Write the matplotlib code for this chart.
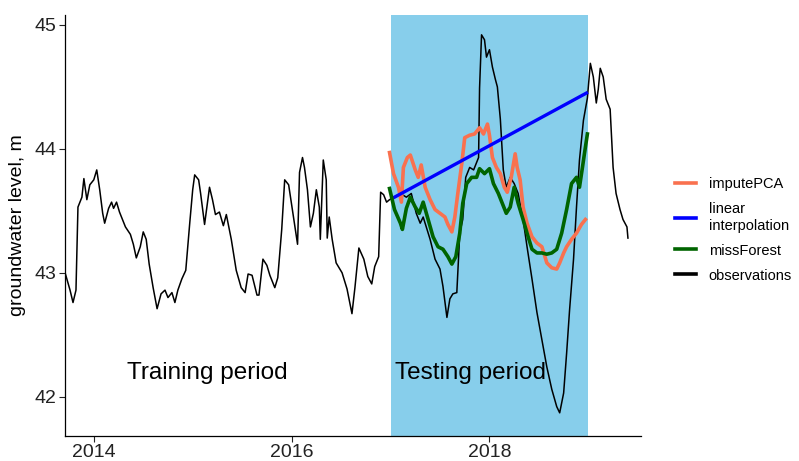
import numpy as np
import matplotlib
matplotlib.use('Agg')
import matplotlib.pyplot as plt

plt.rcParams['font.family'] = ['Liberation Sans', 'DejaVu Sans']

# observed groundwater level (decimal year, m)
obs_t = [2013.705, 2013.71, 2013.76, 2013.79, 2013.82, 2013.84, 2013.88, 2013.90, 2013.93, 2013.96,
         2014.00, 2014.03, 2014.06, 2014.09, 2014.11, 2014.15, 2014.18, 2014.20, 2014.23, 2014.26,
         2014.32, 2014.37, 2014.40, 2014.43, 2014.47, 2014.50, 2014.53, 2014.56, 2014.60, 2014.64,
         2014.68, 2014.72, 2014.75, 2014.79, 2014.82, 2014.85, 2014.89, 2014.93, 2014.97, 2015.00,
         2015.02, 2015.06, 2015.08, 2015.12, 2015.17, 2015.20, 2015.23, 2015.27, 2015.31, 2015.34,
         2015.39, 2015.44, 2015.49, 2015.53, 2015.56, 2015.60, 2015.65, 2015.67, 2015.71, 2015.75,
         2015.78, 2015.83, 2015.86, 2015.90, 2015.93, 2015.97, 2016.00, 2016.02, 2016.06, 2016.08,
         2016.11, 2016.13, 2016.16, 2016.19, 2016.22, 2016.25, 2016.28, 2016.29, 2016.32, 2016.35,
         2016.36, 2016.38, 2016.41, 2016.45, 2016.51, 2016.56, 2016.61, 2016.64, 2016.68, 2016.73,
         2016.77, 2016.81, 2016.84, 2016.88, 2016.90, 2016.93, 2016.96, 2016.99, 2017.04, 2017.10,
         2017.16, 2017.21, 2017.26, 2017.30, 2017.33, 2017.40, 2017.45, 2017.50, 2017.53, 2017.57,
         2017.60, 2017.63, 2017.67, 2017.70, 2017.73, 2017.76, 2017.80, 2017.84, 2017.89, 2017.90,
         2017.92, 2017.95, 2017.97, 2018.00, 2018.03, 2018.06, 2018.08, 2018.11, 2018.14, 2018.17,
         2018.21, 2018.25, 2018.29, 2018.34, 2018.38, 2018.43, 2018.48, 2018.53, 2018.58, 2018.63,
         2018.68, 2018.71, 2018.75, 2018.78, 2018.81, 2018.85, 2018.88, 2018.91, 2018.95, 2018.99,
         2019.02, 2019.05, 2019.08, 2019.10, 2019.12, 2019.15, 2019.18, 2019.22, 2019.25, 2019.28,
         2019.32, 2019.35, 2019.39, 2019.40]
obs_v = [43.00, 43.00, 42.86, 42.76, 42.86, 43.53, 43.61, 43.76, 43.59, 43.71,
         43.75, 43.83, 43.67, 43.48, 43.40, 43.52, 43.57, 43.52, 43.57, 43.49,
         43.37, 43.31, 43.23, 43.12, 43.21, 43.33, 43.27, 43.07, 42.88, 42.71,
         42.83, 42.86, 42.80, 42.84, 42.76, 42.86, 42.95, 43.02, 43.40, 43.67,
         43.79, 43.75, 43.64, 43.39, 43.69, 43.59, 43.47, 43.49, 43.38, 43.47,
         43.27, 43.02, 42.88, 42.84, 42.99, 42.98, 42.82, 42.82, 43.11, 43.06,
         42.98, 42.88, 42.96, 43.35, 43.75, 43.71, 43.55, 43.44, 43.23, 43.81,
         43.93, 43.85, 43.67, 43.37, 43.48, 43.67, 43.53, 43.27, 43.91, 43.75,
         43.28, 43.45, 43.27, 43.08, 43.00, 42.87, 42.67, 42.88, 43.20, 43.11,
         42.97, 42.91, 43.05, 43.13, 43.65, 43.63, 43.57, 43.59, 43.61, 43.64,
         43.61, 43.64, 43.48, 43.40, 43.45, 43.27, 43.11, 43.03, 42.89, 42.64,
         42.79, 42.83, 42.84, 43.32, 43.43, 43.77, 43.85, 43.83, 43.93, 44.49,
         44.92, 44.88, 44.74, 44.80, 44.66, 44.56, 44.50, 44.24, 43.83, 43.69,
         43.77, 43.72, 43.64, 43.43, 43.21, 42.95, 42.68, 42.46, 42.24, 42.06,
         41.92, 41.87, 42.03, 42.35, 42.70, 43.11, 43.53, 43.91, 44.23, 44.41,
         44.69, 44.58, 44.37, 44.48, 44.65, 44.58, 44.40, 44.32, 43.85, 43.64,
         43.51, 43.43, 43.37, 43.28]

# imputePCA
pca_t = [2016.99, 2017.03, 2017.08, 2017.11, 2017.13, 2017.17, 2017.20, 2017.25, 2017.28, 2017.31,
         2017.35, 2017.40, 2017.45, 2017.50, 2017.55, 2017.58, 2017.62, 2017.65, 2017.68, 2017.72,
         2017.75, 2017.80, 2017.85, 2017.90, 2017.94, 2017.98, 2018.00, 2018.03, 2018.07, 2018.11,
         2018.15, 2018.18, 2018.22, 2018.26, 2018.28, 2018.31, 2018.34, 2018.38, 2018.43, 2018.48,
         2018.53, 2018.58, 2018.63, 2018.68, 2018.71, 2018.75, 2018.78, 2018.83, 2018.88, 2018.93,
         2018.97]
pca_v = [43.97, 43.80, 43.69, 43.57, 43.85, 43.93, 43.95, 43.83, 43.77, 43.87,
         43.69, 43.59, 43.51, 43.48, 43.45, 43.39, 43.33, 43.45, 43.64, 43.88,
         44.09, 44.11, 44.12, 44.17, 44.12, 44.20, 44.11, 43.93, 43.85, 43.80,
         43.69, 43.65, 43.77, 43.96, 43.85, 43.75, 43.53, 43.40, 43.29, 43.24,
         43.21, 43.08, 43.04, 43.03, 43.08, 43.16, 43.21, 43.27, 43.32, 43.39,
         43.43]

# linear interpolation
lin_t = [2017.04, 2018.98]
lin_v = [43.61, 44.45]

# missForest
mf_t = [2016.99, 2017.04, 2017.10, 2017.12, 2017.16, 2017.20, 2017.25, 2017.29, 2017.33, 2017.38,
        2017.43, 2017.48, 2017.53, 2017.58, 2017.62, 2017.66, 2017.70, 2017.73, 2017.77, 2017.82,
        2017.87, 2017.90, 2017.95, 2018.00, 2018.04, 2018.09, 2018.13, 2018.17, 2018.21, 2018.25,
        2018.29, 2018.34, 2018.38, 2018.43, 2018.48, 2018.53, 2018.58, 2018.63, 2018.68, 2018.73,
        2018.78, 2018.83, 2018.88, 2018.91, 2018.94, 2018.96, 2018.99]
mf_v = [43.68, 43.51, 43.40, 43.35, 43.52, 43.61, 43.53, 43.48, 43.57, 43.43,
        43.29, 43.21, 43.19, 43.13, 43.07, 43.13, 43.32, 43.56, 43.72, 43.77,
        43.77, 43.84, 43.80, 43.84, 43.72, 43.64, 43.56, 43.48, 43.53, 43.69,
        43.56, 43.43, 43.32, 43.19, 43.16, 43.16, 43.15, 43.16, 43.19, 43.32,
        43.51, 43.72, 43.77, 43.69, 43.85, 43.96, 44.12]

test_start, test_end = 2017.0, 2019.0
year_ticks = [2014, 2016, 2018]
level_ticks = [42, 43, 44, 45]

fig = plt.figure(figsize=(7.99, 4.61), dpi=100)
ax = fig.add_axes([64.6/799, 1-436/461, (640.8-64.6)/799, (436-15)/461])

ax.axvspan(test_start, test_end, color='#87CEEB', lw=0, zorder=0)
ax.plot(obs_t, obs_v, color='black', lw=1.1, zorder=2)
ax.plot(pca_t, pca_v, color='#F9714F', lw=2.6, zorder=3)
ax.plot(lin_t, lin_v, color='#0000FF', lw=2.4, zorder=3)
ax.plot(mf_t, mf_v, color='#006400', lw=2.6, zorder=3)

ax.text(2015.15, 42.19, 'Training period', fontsize=17.5, ha='center', va='center')
ax.text(2017.81, 42.19, 'Testing period', fontsize=17.5, ha='center', va='center')

ax.set_xlim(2013.705, 2019.53)
ax.set_ylim(41.683, 45.08)
ax.set_xticks(year_ticks)
ax.set_xticklabels([str(y) for y in year_ticks])
ax.set_yticks(level_ticks)
ax.tick_params(labelsize=14, length=4, width=0.8, colors='#222222', pad=2)
for s in ['top', 'right']:
    ax.spines[s].set_visible(False)
for s in ['left', 'bottom']:
    ax.spines[s].set_linewidth(0.9)
ax.set_ylabel('groundwater level, m', fontsize=14, labelpad=6)

handles = [plt.Line2D([], [], color=c, lw=2.6) for c in ['#F9714F', '#0000FF', '#006400', 'black']]
labels = ['imputePCA', 'linear\ninterpolation', 'missForest', 'observations']
fig.legend(handles, labels, loc='center left', bbox_to_anchor=(662/799, 1-230/461),
           frameon=False, fontsize=10.5, handlelength=1.4, handletextpad=0.9,
           labelspacing=0.75)

fig.savefig('out.png', dpi=100)
